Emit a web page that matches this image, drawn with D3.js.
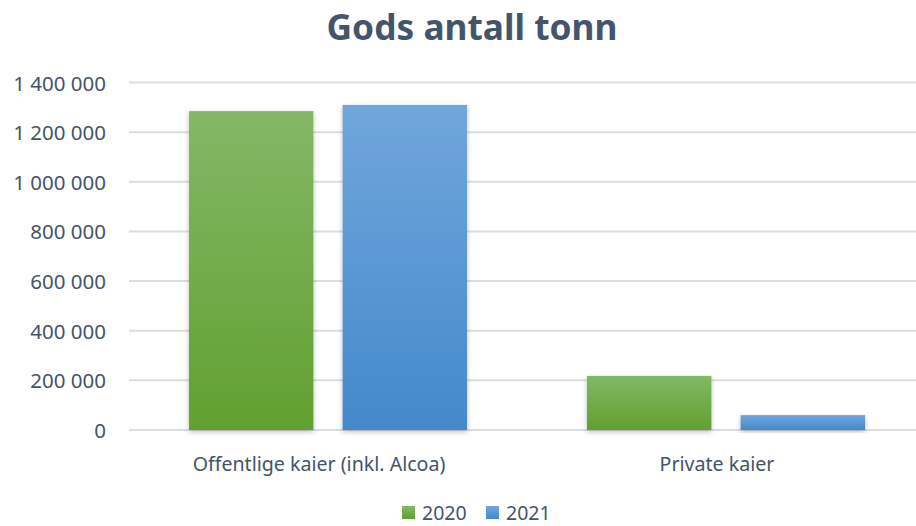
<!DOCTYPE html>
<html>
<head>
<meta charset="utf-8">
<script src="https://cdn.jsdelivr.net/npm/d3@7"></script>
<style>
  body { margin: 0; background: #fff; }
  text { font-family: "Noto Sans", "Open Sans", sans-serif; fill: #44546A; }
</style>
</head>
<body>
<svg id="chart" width="916" height="526"></svg>
<script>
var categories = ["Offentlige kaier (inkl. Alcoa)", "Private kaier"]
var years = ["2020", "2021"]
var values2020 = [1285000, 218000]
var values2021 = [1310000, 60000]
var yTicks = [0, 200000, 400000, 600000, 800000, 1000000, 1200000, 1400000]

var svg = d3.select("svg#chart"),
    width = +svg.attr("width"),
    height = +svg.attr("height")

var colors = {
    "2020": ["#83B866", "#61A030"],
    "2021": ["#70A6DB", "#4489CB"]
}

var defs = svg.append("defs")
years.forEach(function(yr) {
    var g = defs.append("linearGradient")
        .attr("id", "grad" + yr)
        .attr("x1", 0).attr("y1", 0).attr("x2", 0).attr("y2", 1)
    g.append("stop").attr("offset", "0%").attr("stop-color", colors[yr][0])
    g.append("stop").attr("offset", "100%").attr("stop-color", colors[yr][1])
})
var f = defs.append("filter").attr("id", "shadow")
    .attr("x", "-10%").attr("y", "-10%").attr("width", "120%").attr("height", "130%")
f.append("feDropShadow").attr("dx", 0).attr("dy", 2).attr("stdDeviation", 2.5)
    .attr("flood-color", "#000").attr("flood-opacity", 0.25)

// fit text to a measured width
function fit(sel, target) {
    var w = sel.node().getComputedTextLength()
    var fs = parseFloat(sel.style("font-size"))
    sel.style("font-size", (fs * target / w) + "px")
}

var y = d3.scaleLinear().domain([0, 1400000]).range([430, 82.6])
var x0 = d3.scaleBand().domain(categories).range([129, 925]).paddingInner(0).paddingOuter(0)
var x1 = d3.scaleBand().domain(years).range([0, x0.bandwidth()]).paddingInner(0.19).paddingOuter(0.39)

var fmt = function(d) { return d3.format(",")(d).replace(/,/g, " ") }

// gridlines
svg.append("g").selectAll("line").data(yTicks).enter().append("line")
    .attr("x1", 129).attr("x2", width)
    .attr("y1", function(d) { return y(d) }).attr("y2", function(d) { return y(d) })
    .attr("stroke", "#D9DDE4").attr("stroke-width", 2)

// y tick labels
svg.append("g").selectAll("text").data(yTicks).enter().append("text")
    .attr("x", 106).attr("y", function(d) { return y(d) })
    .attr("text-anchor", "end").attr("dominant-baseline", "central")
    .style("font-size", "20.5px")
    .text(fmt)

// bars
var rows = categories.map(function(c, i) {
    return { cat: c, vals: [{ yr: "2020", v: values2020[i] }, { yr: "2021", v: values2021[i] }] }
})
var grp = svg.append("g").selectAll("g").data(rows).enter().append("g")
    .attr("transform", function(d) { return "translate(" + x0(d.cat) + ",0)" })
grp.selectAll("rect").data(function(d) { return d.vals }).enter().append("rect")
    .attr("x", function(d) { return x1(d.yr) })
    .attr("width", x1.bandwidth())
    .attr("y", function(d) { return y(d.v) })
    .attr("height", function(d) { return y(0) - y(d.v) })
    .attr("fill", function(d) { return "url(#grad" + d.yr + ")" })
    .attr("filter", "url(#shadow)")

// category labels
svg.append("g").selectAll("text").data(categories).enter().append("text")
    .attr("x", function(d) { return x0(d) + x0.bandwidth() / 2 - 9 })
    .attr("y", 463)
    .attr("text-anchor", "middle").attr("dominant-baseline", "central")
    .style("font-size", "19.6px")
    .text(function(d) { return d })

// title
var title = svg.append("text")
    .attr("x", width / 2 + 14).attr("y", 26)
    .attr("text-anchor", "middle").attr("dominant-baseline", "central")
    .style("font-size", "36px").style("font-weight", "bold")
    .text("Gods antall tonn")
fit(title, 291)

// legend
var legendX = [402, 486]
var leg = svg.append("g").selectAll("g").data(years).enter().append("g")
    .attr("transform", function(d, i) { return "translate(" + legendX[i] + ",506)" })
leg.append("rect").attr("x", 0).attr("y", 0).attr("width", 13).attr("height", 13)
    .attr("fill", function(d) { return "url(#grad" + d + ")" })
leg.append("text").attr("x", 20).attr("y", 6.5)
    .attr("dominant-baseline", "central")
    .style("font-size", "19.5px")
    .text(function(d) { return d })
</script>
</body>
</html>
